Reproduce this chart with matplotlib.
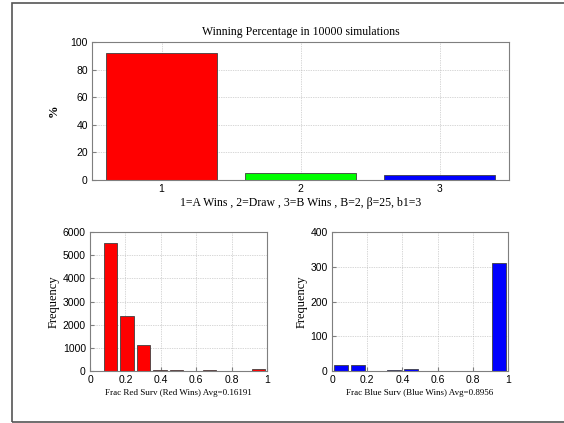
import matplotlib
matplotlib.use("Agg")
import matplotlib.pyplot as plt
from matplotlib.patches import Rectangle
from matplotlib.ticker import FuncFormatter

# Outcome shares (percent) over the simulation run
outcomes = [1, 2, 3]
win_pct = [92.0, 4.8, 3.7]
win_colors = ["#ff0000", "#00ff00", "#0000ff"]

# Histogram of surviving red fraction in red wins
red_centers = [0.1165, 0.2095, 0.3025, 0.3955, 0.4885, 0.5815, 0.6745, 0.7675, 0.8605, 0.9535]
red_counts = [5540, 2370, 1120, 40, 35, 10, 30, 10, 10, 75]

# Histogram of surviving blue fraction in blue wins
blue_centers = [0.05, 0.15, 0.25, 0.35, 0.45, 0.55, 0.65, 0.75, 0.85, 0.95]
blue_counts = [18, 18, 0, 4, 7, 0, 0, 0, 0, 312]

serif = "Liberation Serif"
sans = "Liberation Sans"
W, H = 564, 423

fig = plt.figure(figsize=(W / 100, H / 100), dpi=100)


def ax_at(left, top, right, bottom):
    return fig.add_axes([left / W, 1 - bottom / H, (right - left) / W, (bottom - top) / H])


def style(ax):
    for s in ax.spines.values():
        s.set_color("#7f7f7f")
        s.set_linewidth(0.8)
    ax.tick_params(direction="in", length=3, color="#7f7f7f", labelsize=7.5, pad=3)
    for lab in ax.get_xticklabels() + ax.get_yticklabels():
        lab.set_fontfamily(sans)
    ax.grid(True, linestyle=(0, (1, 1.5)), color="#b0b0b0", linewidth=0.5)
    ax.set_axisbelow(True)


fmt = FuncFormatter(lambda v, p: f"{v:g}")

# top: winning percentage
ax1 = ax_at(92, 42, 509, 180)
ax1.bar(outcomes, win_pct, width=0.8, color=win_colors, edgecolor="#404040", linewidth=0.6)
ax1.set_xlim(0.5, 3.5)
ax1.set_ylim(0, 100)
ax1.set_xticks(outcomes)
ax1.set_yticks(range(0, 101, 20))
style(ax1)
ax1.set_title("Winning Percentage in 10000 simulations", fontfamily=serif, fontsize=8.5, pad=5)
ax1.set_ylabel("%", fontfamily=serif, fontsize=9, fontweight="bold", labelpad=8)
ax1.set_xlabel("1=A Wins , 2=Draw , 3=B Wins , B=2, \u03b2=25, b1=3", fontfamily=serif,
               fontsize=8.5, labelpad=2)

# bottom left: red survivors
ax2 = ax_at(90, 232, 267, 371)
ax2.bar(red_centers, red_counts, width=0.0744, color="#ff0000", edgecolor="#404040", linewidth=0.6)
ax2.set_xlim(0, 1)
ax2.set_ylim(0, 6000)
ax2.set_xticks([0, 0.2, 0.4, 0.6, 0.8, 1])
ax2.set_yticks(range(0, 6001, 1000))
ax2.xaxis.set_major_formatter(fmt)
style(ax2)
ax2.set_ylabel("Frequency", fontfamily=serif, fontsize=9, labelpad=2)
ax2.set_xlabel("Frac Red Surv (Red Wins) Avg=0.16191", fontfamily=serif, fontsize=6.5, labelpad=3)

# bottom right: blue survivors
ax3 = ax_at(332, 232, 508, 371)
ax3.bar(blue_centers, blue_counts, width=0.08, color="#0000ff", edgecolor="#404040", linewidth=0.6)
ax3.set_xlim(0, 1)
ax3.set_ylim(0, 400)
ax3.set_xticks([0, 0.2, 0.4, 0.6, 0.8, 1])
ax3.set_yticks(range(0, 401, 100))
ax3.xaxis.set_major_formatter(fmt)
style(ax3)
ax3.set_ylabel("Frequency", fontfamily=serif, fontsize=9, labelpad=2)
ax3.set_xlabel("Frac Blue Surv (Blue Wins) Avg=0.8956", fontfamily=serif, fontsize=6.5, labelpad=3)

# outer frame around the figure window (runs off the right edge)
fig.patches.append(Rectangle((12 / W, 1 - 422 / H), 1.2, 419 / H, transform=fig.transFigure,
                             fill=False, edgecolor="#555555", linewidth=1.2, clip_on=False))

fig.savefig("out.png", dpi=100)
